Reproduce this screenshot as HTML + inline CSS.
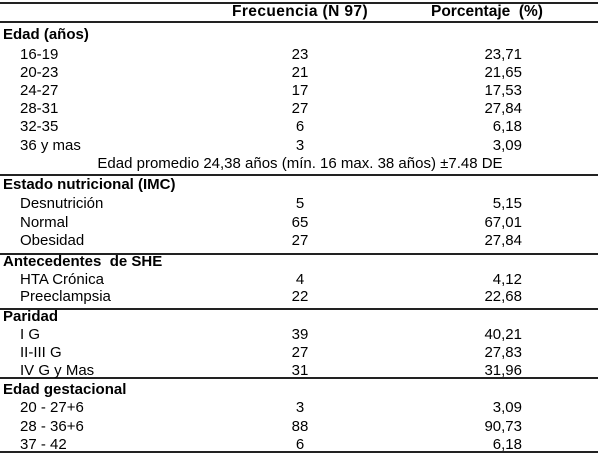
<!DOCTYPE html>
<html><head><meta charset="utf-8"><style>
body{margin:0;width:602px;height:459px;background:#fff;position:relative;font-family:"Liberation Sans",Arial,sans-serif;font-size:15px;color:#000;overflow:hidden}
.t{position:absolute;white-space:nowrap;line-height:16px;transform:translateY(-8px)}
.b{font-weight:bold}
.l{position:absolute;left:0;width:598px;height:2px;background:#222}
.f{left:250px;width:100px;text-align:center}
.p{right:80px;text-align:right}
</style></head><body>
<div class="l" style="top:2px"></div>
<div class="l" style="top:21px"></div>
<div class="l" style="top:174px"></div>
<div class="l" style="top:253px"></div>
<div class="l" style="top:308px"></div>
<div class="l" style="top:377px"></div>
<div class="l" style="top:451px"></div>
<div class="t b" style="top:12px;left:232px;font-size:15.5px;letter-spacing:0.4px">Frecuencia (N 97)</div>
<div class="t b" style="top:12px;left:431px;font-size:15.5px">Porcentaje&nbsp; (%)</div>

<div class="t b" style="top:35px;left:3px">Edad (años)</div>
<div class="t" style="top:55px;left:20px">16-19</div><div class="t f" style="top:55px">23</div><div class="t p" style="top:55px">23,71</div>
<div class="t" style="top:73px;left:20px">20-23</div><div class="t f" style="top:73px">21</div><div class="t p" style="top:73px">21,65</div>
<div class="t" style="top:91px;left:20px">24-27</div><div class="t f" style="top:91px">17</div><div class="t p" style="top:91px">17,53</div>
<div class="t" style="top:109px;left:20px">28-31</div><div class="t f" style="top:109px">27</div><div class="t p" style="top:109px">27,84</div>
<div class="t" style="top:127px;left:20px">32-35</div><div class="t f" style="top:127px">6</div><div class="t p" style="top:127px">6,18</div>
<div class="t" style="top:146px;left:20px">36 y mas</div><div class="t f" style="top:146px">3</div><div class="t p" style="top:146px">3,09</div>
<div class="t" style="top:164px;left:0;width:600px;text-align:center">Edad promedio 24,38 años (mín. 16 max. 38 años) ±7.48 DE</div>

<div class="t b" style="top:185px;left:3px">Estado nutricional (IMC)</div>
<div class="t" style="top:204px;left:20px">Desnutrición</div><div class="t f" style="top:204px">5</div><div class="t p" style="top:204px">5,15</div>
<div class="t" style="top:223px;left:20px">Normal</div><div class="t f" style="top:223px">65</div><div class="t p" style="top:223px">67,01</div>
<div class="t" style="top:241px;left:20px">Obesidad</div><div class="t f" style="top:241px">27</div><div class="t p" style="top:241px">27,84</div>

<div class="t b" style="top:262px;left:3px">Antecedentes&nbsp; de SHE</div>
<div class="t" style="top:280px;left:20px">HTA Crónica</div><div class="t f" style="top:280px">4</div><div class="t p" style="top:280px">4,12</div>
<div class="t" style="top:297px;left:20px">Preeclampsia</div><div class="t f" style="top:297px">22</div><div class="t p" style="top:297px">22,68</div>

<div class="t b" style="top:317px;left:3px">Paridad</div>
<div class="t" style="top:335px;left:20px">I G</div><div class="t f" style="top:335px">39</div><div class="t p" style="top:335px">40,21</div>
<div class="t" style="top:353px;left:20px">II-III G</div><div class="t f" style="top:353px">27</div><div class="t p" style="top:353px">27,83</div>
<div class="t" style="top:371px;left:20px">IV G y Mas</div><div class="t f" style="top:371px">31</div><div class="t p" style="top:371px">31,96</div>

<div class="t b" style="top:390px;left:3px">Edad gestacional</div>
<div class="t" style="top:408px;left:20px">20 - 27+6</div><div class="t f" style="top:408px">3</div><div class="t p" style="top:408px">3,09</div>
<div class="t" style="top:427px;left:20px">28 - 36+6</div><div class="t f" style="top:427px">88</div><div class="t p" style="top:427px">90,73</div>
<div class="t" style="top:445px;left:20px">37 - 42</div><div class="t f" style="top:445px">6</div><div class="t p" style="top:445px">6,18</div>
</body></html>
